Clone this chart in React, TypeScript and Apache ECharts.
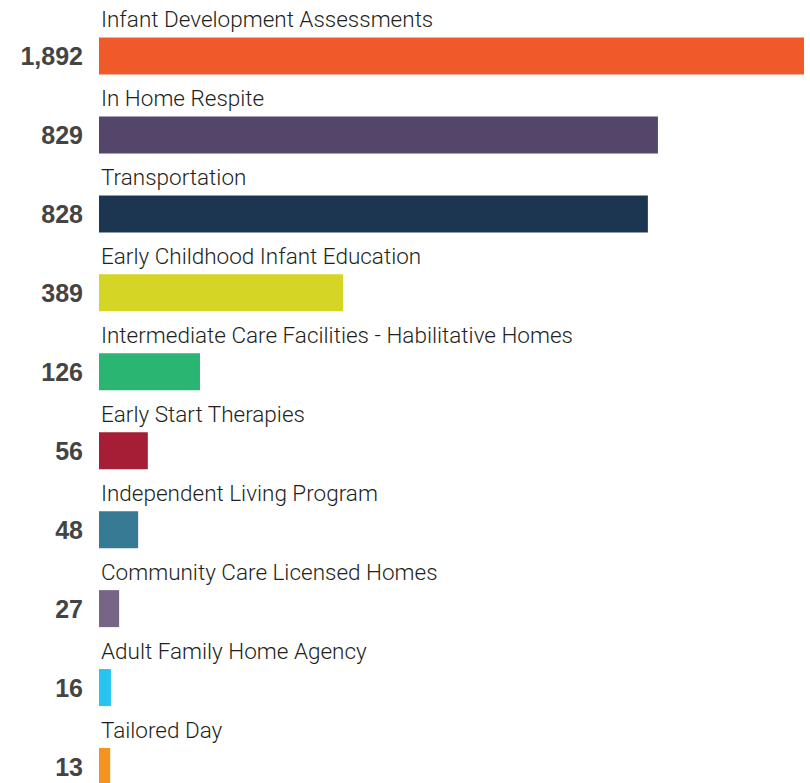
import React, { useEffect, useRef } from "react";
import * as echarts from "echarts";

// Categories, top to bottom
const categories: string[] = [
  "Infant Development Assessments",
  "In Home Respite",
  "Transportation",
  "Early Childhood Infant Education",
  "Intermediate Care Facilities - Habilitative Homes",
  "Early Start Therapies",
  "Independent Living Program",
  "Community Care Licensed Homes",
  "Adult Family Home Agency",
  "Tailored Day",
];

// Values printed beside each bar
const values: number[] = [1892, 829, 828, 389, 126, 56, 48, 27, 16, 13];

// Bar lengths as drawn in the infographic (not to scale with the values),
// expressed in the same units as the top value
const barLengths: number[] = [1892, 1500, 1473, 655, 271, 131, 105, 54, 32, 30];

const colors: string[] = [
  "#F05A2A",
  "#54466B",
  "#1C3652",
  "#D5D526",
  "#2AB573",
  "#A61E35",
  "#377A93",
  "#766585",
  "#27C4EF",
  "#F6921E",
];

export default function App() {
  const ref = useRef<HTMLDivElement>(null);

  useEffect(() => {
    if (!ref.current) return;
    const chart = echarts.init(ref.current, undefined, { renderer: "svg" });
    chart.setOption({
      animation: false,
      backgroundColor: "#ffffff",
      grid: {
        left: 99,
        right: 6,
        top: 16.5,
        height: 789.5,
        containLabel: false,
      },
      xAxis: {
        type: "value",
        min: 0,
        max: 1892,
        show: false,
      },
      yAxis: {
        type: "category",
        inverse: true,
        data: categories,
        axisLine: { show: false },
        axisTick: { show: false },
        splitLine: { show: false },
        axisLabel: {
          margin: 16,
          fontFamily: "Liberation Sans, Arial, sans-serif",
          fontWeight: "bold",
          fontSize: 25,
          color: "#444444",
          formatter: (_v: string, i: number) => values[i].toLocaleString("en-US"),
        },
      },
      series: [
        {
          type: "bar",
          barWidth: 37,
          data: barLengths.map((v, i) => ({
            value: v,
            itemStyle: { color: colors[i] },
          })),
          label: {
            show: true,
            position: [2, -18],
            verticalAlign: "middle",
            align: "left",
            fontFamily: "Roboto, sans-serif",
            fontWeight: 300,
            fontSize: 22.5,
            color: "#231F20",
            formatter: (p: any) => categories[p.dataIndex],
          },
        },
      ],
    });
    return () => chart.dispose();
  }, []);

  return (
    <div
      ref={ref}
      style={{
        position: "fixed",
        left: 0,
        top: 0,
        width: 810,
        height: 830,
        background: "#ffffff",
      }}
    />
  );
}
